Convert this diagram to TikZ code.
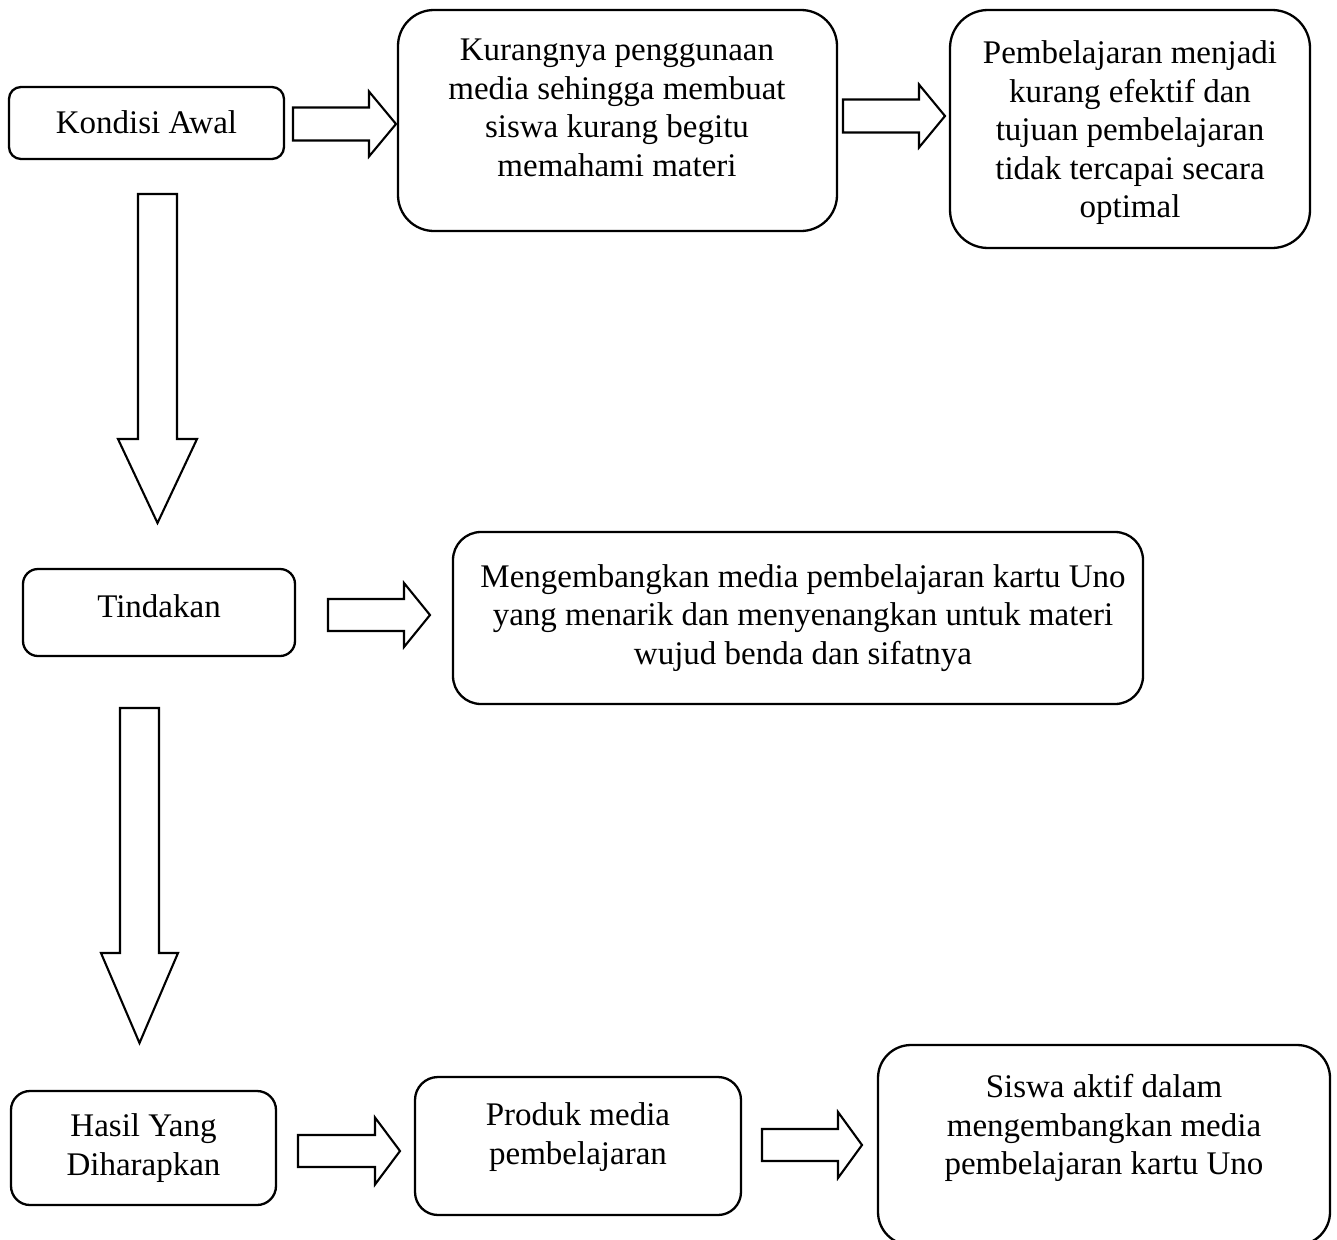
\documentclass[tikz,border=0pt]{standalone}
\usepackage{fontspec}
\setmainfont{Liberation Serif}
\newcommand\rblockarrow[6]{% x0, xbase, xtip, cy, shaft half, head half
  \draw[barrow] (#1,#4-#5) -- (#2,#4-#5) -- (#2,#4-#6) -- (#3,#4) -- (#2,#4+#6) -- (#2,#4+#5) -- (#1,#4+#5) -- cycle;}
\newcommand\dblockarrow[6]{% cx, y0, ybase, ytip, shaft half, head half
  \draw[barrow] (#1-#5,#2) -- (#1+#5,#2) -- (#1+#5,#3) -- (#1+#6,#3) -- (#1,#4) -- (#1-#6,#3) -- (#1-#5,#3) -- cycle;}
\tikzset{
  box/.style={draw, line width=2.3pt, rounded corners=#1, inner sep=0pt},
  txt/.style={align=center, font=\fontsize{33}{38.5}\selectfont, inner sep=0pt},
  barrow/.style={draw, line width=2.1pt, fill=white, line join=miter}
}
\begin{document}
\begin{tikzpicture}[x=1pt,y=-1pt]
\useasboundingbox (0,0) rectangle (1337,1239);
\clip (0,0) rectangle (1337,1239);
\fill[white] (0,0) rectangle (1337,1239);

% boxes
\node[box=12pt, minimum width=275pt, minimum height=72pt] (b1) at (146.5,123) {};
\node[box=36pt, minimum width=439pt, minimum height=221pt] (b2) at (617.5,120.5) {};
\node[box=38pt, minimum width=360pt, minimum height=238pt] (b3) at (1130,129) {};
\node[box=15pt, minimum width=272pt, minimum height=87pt] (b4) at (159,612.5) {};
\node[box=28pt, minimum width=690pt, minimum height=172pt] (b5) at (798,618) {};
\node[box=19pt, minimum width=265pt, minimum height=114pt] (b6) at (143.5,1148) {};
\node[box=23pt, minimum width=326pt, minimum height=138pt] (b7) at (578,1146) {};
\node[box=33pt, minimum width=452pt, minimum height=200pt] (b8) at (1104,1145) {};

% texts
\node[txt] (t1) at (146.5,122) {Kondisi Awal};
\node[txt] (t2) at (617,108) {Kurangnya penggunaan\\media sehingga membuat\\siswa kurang begitu\\memahami materi};
\node[txt] (t3) at (1130,133) {Pembelajaran menjadi\\kurang efektif dan\\tujuan pembelajaran\\tidak tercapai secara\\optimal};
\node[txt] (t4) at (159,606) {Tindakan};
\node[txt] (t5) at (803,618) {Mengembangkan media pembelajaran kartu Uno\\yang menarik dan menyenangkan untuk materi\\wujud benda dan sifatnya};
\node[txt] (t6) at (143.5,1148) {Hasil Yang\\Diharapkan};
\node[txt] (t7) at (578,1137) {Produk media\\pembelajaran};
\node[txt] (t8) at (1104,1128) {Siswa aktif dalam\\mengembangkan media\\pembelajaran kartu Uno};

% block arrows
\rblockarrow{293}{369}{396}{124}{16.5}{32.5}
\rblockarrow{843}{919}{945}{116}{16.5}{31.5}
\rblockarrow{328}{404}{430}{615}{16}{32}
\rblockarrow{298}{375}{400}{1151}{16}{33.5}
\rblockarrow{762}{838}{862}{1145}{16}{33}
\dblockarrow{157.5}{194}{439}{523}{19.5}{39.5}
\dblockarrow{139.5}{708}{953}{1043}{19.5}{38.5}
\end{tikzpicture}
\end{document}
